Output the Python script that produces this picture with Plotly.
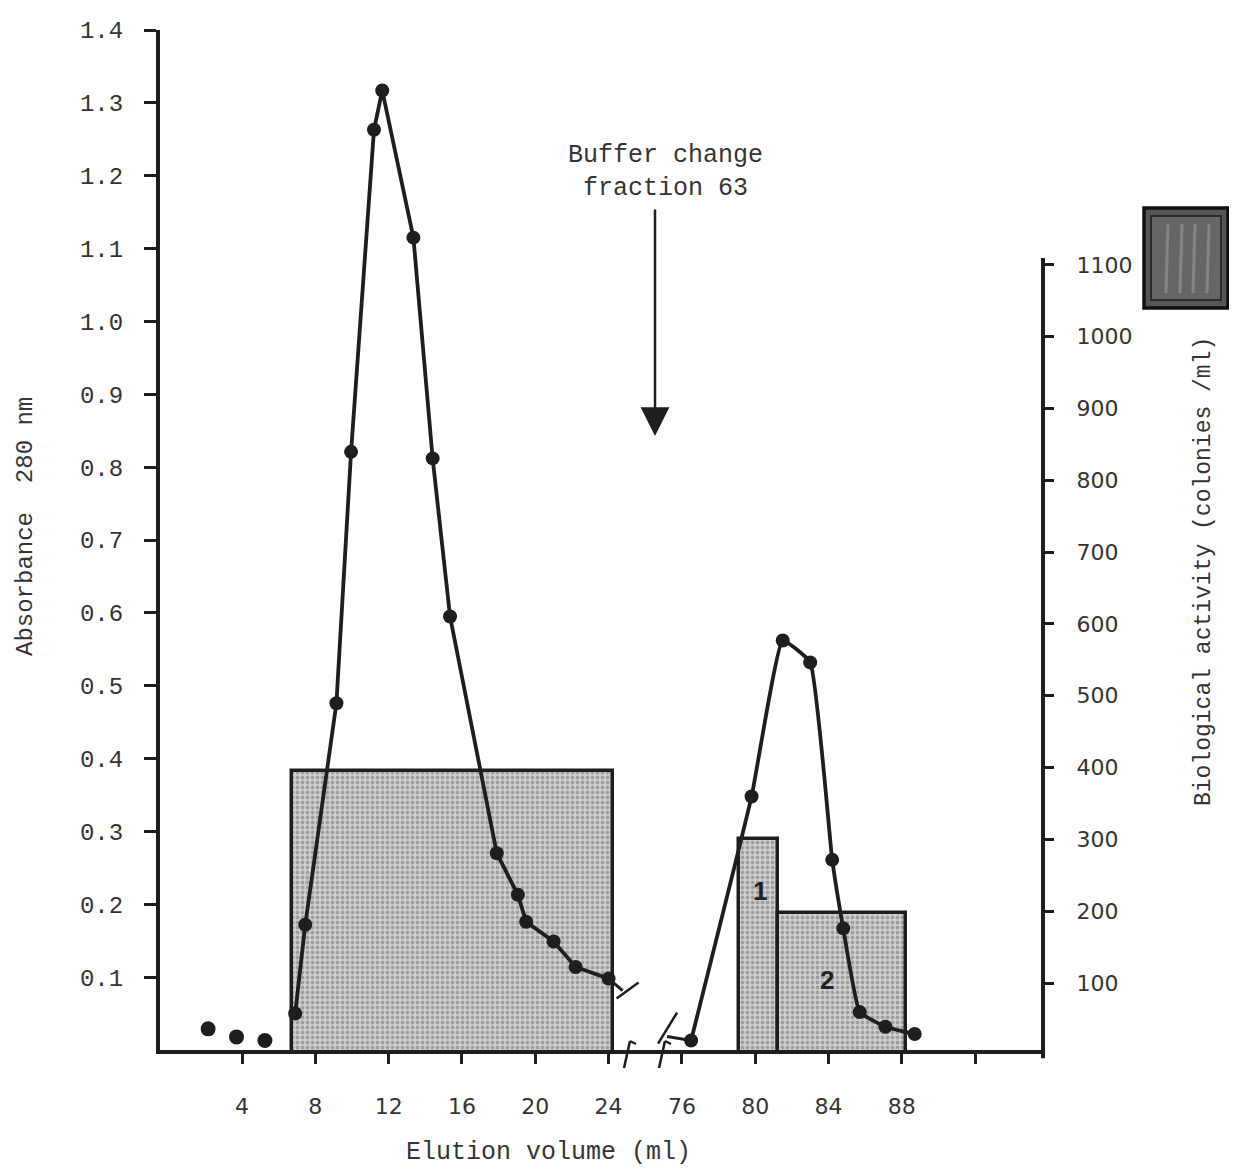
import plotly.graph_objects as go

# ---------------- data ----------------
# absorbance at 280 nm, unconnected baseline points
pre_ml = [2.15, 3.7, 5.25]
pre_abs = [0.029, 0.018, 0.013]

# first peak (before buffer change)
peak1_ml = [6.9, 7.45, 9.15, 9.95, 11.2, 11.65, 13.35, 14.4, 15.35, 17.9, 19.05, 19.5, 21.0, 22.2, 24.0]
peak1_abs = [0.050, 0.172, 0.476, 0.821, 1.263, 1.317, 1.115, 0.812, 0.595, 0.270, 0.213, 0.176, 0.149, 0.114, 0.098]

# second peak (after buffer change)
peak2_ml = [76.5, 79.8, 81.5, 83.0, 84.2, 84.8, 85.7, 87.1, 88.7]
peak2_abs = [0.013, 0.348, 0.562, 0.532, 0.261, 0.167, 0.052, 0.032, 0.022]

# biological activity bars (colonies/ml)
bar_start_ml = [6.7, 79.1, 81.25]
bar_end_ml = [24.25, 81.25, 88.25]
bar_activity = [395, 300, 198]
bar_names = ["", "1", "2"]
bar_label_ml = [None, 80.25, 83.9]
bar_label_act = [None, 228, 104]

# tick labels
x_tick_ml = [4, 8, 12, 16, 20, 24, 76, 80, 84, 88, 92]
x_tick_text = ["4", "8", "12", "16", "20", "24", "76", "80", "84", "88", ""]
abs_ticks = [0.1, 0.2, 0.3, 0.4, 0.5, 0.6, 0.7, 0.8, 0.9, 1.0, 1.1, 1.2, 1.3, 1.4]
act_ticks = [100, 200, 300, 400, 500, 600, 700, 800, 900, 1000, 1100]

# ---------------- broken-axis transform ----------------
GAP = 48  # ml removed between 24 and 76 (76 drawn one tick-step after 24)


def to_axis(ml):
    return ml if ml < 50 else ml - GAP


# ---------------- geometry (screen pixels; page body has an 8px margin) ----------------
OFF = 8
W, H = 1237 - OFF, 1171 - OFF
PL, PR, PT, PB = 160, 1043, 30, 1050          # screen coords of plot area
X0, X1 = -0.475, 47.70
ABS_RANGE = [0, 1.4]
ACT_RANGE = [6.7, 1427]

INK = "#1e1e1e"
TXT = "#353535"
MONO = "Liberation Mono, Courier New, monospace"
SANS = "DejaVu Sans, Arial, sans-serif"


def px_x(px):
    return (px - PL) / (PR - PL)


def px_y(py):
    return (PB - py) / (PB - PT)


def dx(ml):
    return (to_axis(ml) - X0) / (X1 - X0)


def dy_abs(a):
    return (a - ABS_RANGE[0]) / (ABS_RANGE[1] - ABS_RANGE[0])


sx = (PR - PL)
sy = (PB - PT)

fig = go.Figure()

# bars on primary (right-hand) axis
centers = [to_axis((a + b) / 2) for a, b in zip(bar_start_ml, bar_end_ml)]
widths = [to_axis(b) - to_axis(a) for a, b in zip(bar_start_ml, bar_end_ml)]
fig.add_trace(go.Bar(
    x=centers, y=bar_activity, width=widths, yaxis="y",
    marker=dict(color="#cccccc",
                pattern=dict(shape=".", fgcolor="#6e6e6e", bgcolor="#d0d0d0",
                             size=5, solidity=0.45),
                line=dict(color=INK, width=3.5)),
    showlegend=False, hoverinfo="skip"))

# absorbance traces on overlaying (left) axis
fig.add_trace(go.Scatter(
    x=[to_axis(v) for v in pre_ml], y=pre_abs, yaxis="y2", mode="markers",
    marker=dict(size=15, color=INK), showlegend=False))
fig.add_trace(go.Scatter(
    x=[to_axis(v) for v in peak1_ml], y=peak1_abs, yaxis="y2", mode="lines+markers",
    line=dict(color=INK, width=3.8), marker=dict(size=14, color=INK), showlegend=False))
fig.add_trace(go.Scatter(
    x=[to_axis(v) for v in peak2_ml], y=peak2_abs, yaxis="y2", mode="lines+markers",
    line=dict(color=INK, width=3.8, shape="spline", smoothing=0.35),
    marker=dict(size=14, color=INK), showlegend=False))

shapes = []
# right axis line (only up to just above 1100)
shapes.append(dict(type="line", xref="paper", yref="paper", x0=1, x1=1,
                   y0=-0.008, y1=px_y(258), line=dict(color=INK, width=4)))

# axis break marks
for bx in [627, 662]:
    shapes.append(dict(type="line", xref="paper", yref="paper",
                       x0=px_x(bx - 3), x1=px_x(bx + 3), y0=px_y(1068), y1=px_y(1041),
                       line=dict(color=INK, width=2.5)))
    shapes.append(dict(type="line", xref="paper", yref="paper",
                       x0=px_x(bx + 3), x1=px_x(bx + 9), y0=px_y(1041), y1=px_y(1044),
                       line=dict(color=INK, width=2)))

# curve break stubs
lx, ly = dx(peak1_ml[-1]), dy_abs(peak1_abs[-1])
shapes.append(dict(type="line", xref="paper", yref="paper",
                   x0=lx, y0=ly, x1=lx + 14 / sx, y1=ly - 12 / sy,
                   line=dict(color=INK, width=3)))
shapes.append(dict(type="line", xref="paper", yref="paper",
                   x0=lx + 8 / sx, y0=ly - 20 / sy, x1=lx + 30 / sx, y1=ly - 4 / sy,
                   line=dict(color=INK, width=2.5)))
rx, ry = dx(peak2_ml[0]), dy_abs(peak2_abs[0])
shapes.append(dict(type="line", xref="paper", yref="paper",
                   x0=rx - 24 / sx, y0=ry + 4 / sy, x1=rx, y1=ry,
                   line=dict(color=INK, width=3)))
shapes.append(dict(type="line", xref="paper", yref="paper",
                   x0=rx - 33 / sx, y0=ry - 3 / sy, x1=rx - 14 / sx, y1=ry + 28 / sy,
                   line=dict(color=INK, width=2.5)))

# legend swatch (top right)
shapes.append(dict(type="rect", xref="paper", yref="paper",
                   x0=px_x(1144), x1=px_x(1228), y0=px_y(308), y1=px_y(208),
                   fillcolor="#555555", line=dict(color="#111111", width=3.5)))
shapes.append(dict(type="rect", xref="paper", yref="paper",
                   x0=px_x(1151), x1=px_x(1221), y0=px_y(300), y1=px_y(216),
                   fillcolor="#666666", line=dict(color="#2a2a2a", width=2)))
for sxp in [1166, 1180, 1193, 1207]:
    shapes.append(dict(type="line", xref="paper", yref="paper",
                       x0=px_x(sxp), x1=px_x(sxp + 2), y0=px_y(293), y1=px_y(224),
                       line=dict(color="#858585", width=3)))

annotations = []
# buffer change arrow + text
annotations.append(dict(xref="paper", yref="paper", x=px_x(655), y=px_y(436),
                        ax=0, ay=-228, text="", showarrow=True, arrowhead=2,
                        arrowsize=2.3, arrowwidth=2.5, arrowcolor=INK, standoff=0))
annotations.append(dict(xref="paper", yref="paper", x=px_x(665), y=px_y(172),
                        xanchor="center", yanchor="middle",
                        text="Buffer change<br>fraction 63", showarrow=False,
                        font=dict(family=MONO, size=25, color=TXT), align="center"))
# bar numbers
for name, lm, la in zip(bar_names, bar_label_ml, bar_label_act):
    if name:
        annotations.append(dict(x=to_axis(lm), y=la, xref="x", yref="y", text="<b>%s</b>" % name,
                                showarrow=False, xanchor="center", yanchor="middle",
                                font=dict(family="Liberation Sans, Arial, sans-serif", size=26, color="#222222")))
# axis titles
annotations.append(dict(xref="paper", yref="paper", x=px_x(548), y=px_y(1152),
                        xanchor="center", yanchor="middle",
                        text="Elution volume (ml)", showarrow=False,
                        font=dict(family=MONO, size=25, color=TXT)))
annotations.append(dict(xref="paper", yref="paper", x=px_x(25), y=px_y(527),
                        xanchor="center", yanchor="middle",
                        text="Absorbance  280 nm", showarrow=False, textangle=-90,
                        font=dict(family=MONO, size=24, color=TXT)))
annotations.append(dict(xref="paper", yref="paper", x=px_x(1204), y=px_y(572),
                        xanchor="center", yanchor="middle",
                        text="Biological activity (colonies /ml)", showarrow=False, textangle=-90,
                        font=dict(family=MONO, size=23, color=TXT)))

fig.update_layout(
    width=W, height=H,
    margin=dict(l=PL - OFF, r=W - (PR - OFF), t=PT - OFF, b=H - (PB - OFF), autoexpand=False),
    paper_bgcolor="white", plot_bgcolor="white",
    bargap=0,
    xaxis=dict(range=[X0, X1], showgrid=False, zeroline=False,
               showline=True, linewidth=4, linecolor=INK,
               tickvals=[to_axis(v) for v in x_tick_ml], ticktext=x_tick_text,
               ticks="outside", ticklen=10, tickwidth=3, tickcolor=INK,
               ticklabelstandoff=24,
               tickfont=dict(family=SANS, size=22, color=TXT)),
    yaxis=dict(range=ACT_RANGE, side="right", showgrid=False, zeroline=False,
               showline=False, tickvals=act_ticks,
               ticks="outside", ticklen=10, tickwidth=3, tickcolor=INK,
               ticklabelstandoff=18,
               tickfont=dict(family=SANS, size=22, color=TXT)),
    yaxis2=dict(range=ABS_RANGE, overlaying="y", side="left", showgrid=False, zeroline=False,
                showline=True, linewidth=4, linecolor=INK,
                tickvals=abs_ticks, tickformat=".1f",
                ticks="outside", ticklen=12, tickwidth=3, tickcolor=INK,
                ticklabelstandoff=16,
                tickfont=dict(family=MONO, size=24, color=TXT)),
    shapes=shapes, annotations=annotations,
)

fig.write_html("out.html")
